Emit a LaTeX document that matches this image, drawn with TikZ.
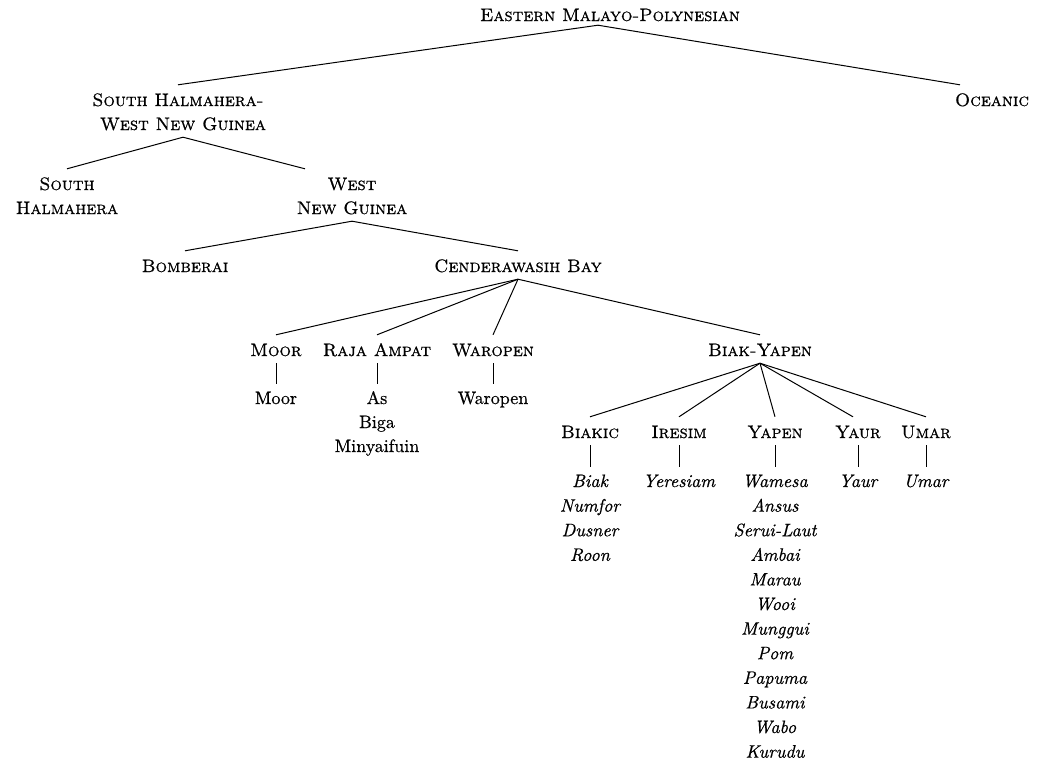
\documentclass[tikz,border=0pt]{standalone}
\usepackage{fontspec}
\setmainfont{lmroman10-regular.otf}[
  ItalicFont=lmroman10-italic.otf,
  SmallCapsFont=lmromancaps10-regular.otf,
  SmallCapsFeatures={FakeBold=0.7},
  FakeBold=0.6]
\begin{document}
\begin{tikzpicture}[x=1pt,y=-1pt,
  grp/.style={font=\fontsize{18}{22}\selectfont\scshape, inner sep=0pt, text height=21pt, text depth=7pt, anchor=base},
  lang/.style={font=\fontsize{18}{22}\selectfont, inner sep=0pt, text height=20pt, text depth=5pt, anchor=base},
  ilang/.style={lang, font=\fontsize{18}{22}\selectfont\itshape},
  br/.style={line width=1pt}]
\useasboundingbox (0,0) rectangle (1053,761);
% group labels
\node[grp] (emp) at (610,21) {Eastern Malayo-Polynesian};
\node[grp] (shw1) at (178,106) {South Halmahera-};
\node[grp] (shw2) at (183,130) {West New Guinea};
\node[grp] (oc) at (992,106) {Oceanic};
\node[grp] (sh1) at (67,190) {South};
\node[grp] (sh2) at (67,214) {Halmahera};
\node[grp] (wng1) at (352,190) {West};
\node[grp] (wng2) at (352,214) {New Guinea};
\node[grp] (bom) at (185,272) {Bomberai};
\node[grp] (cb) at (518,272) {Cenderawasih Bay};
\node[grp] (moor) at (276,356) {Moor};
\node[grp] (raja) at (377,356) {Raja Ampat};
\node[grp] (warg) at (493,356) {Waropen};
\node[grp] (by) at (760,356) {Biak-Yapen};
\node[grp] (biakic) at (590,438) {Biakic};
\node[grp] (iresim) at (679,438) {Iresim};
\node[grp] (yapen) at (775,438) {Yapen};
\node[grp] (yaur) at (858,438) {Yaur};
\node[grp] (umar) at (926,438) {Umar};
% leaves
\node[lang] (lmoor) at (276,404) {Moor};
\node[lang] (las) at (377,404) {As};
\node[lang] (lbiga) at (377,428) {Biga};
\node[lang] (lminy) at (377,452) {Minyaifuin};
\node[lang] (lwar) at (493,404) {Waropen};
\foreach \w [count=\i] in {Biak,Numfor,Dusner,Roon}
  \node[ilang] (bk\i) at (590,{487+24.6*(\i-1)}) {\w};
\node[ilang] (lyer) at (679,487) {Yeresiam};
\foreach \w [count=\i] in {Wamesa,Ansus,Serui-Laut,Ambai,Marau,Wooi,Munggui,Pom,Papuma,Busami,Wabo,Kurudu}
  \node[ilang] (yp\i) at (775,{487+24.6*(\i-1)}) {\w};
\node[ilang] (lyaur) at (858,487) {Yaur};
\node[ilang] (lumar) at (926,487) {Umar};
% branches
\draw[br] ([xshift=-12pt,yshift=3pt]emp.south) -- (shw1.north);
\draw[br] ([xshift=-12pt,yshift=3pt]emp.south) -- ([xshift=-32pt]oc.north);
\draw[br] (shw2.south) -- (sh1.north);
\draw[br] (shw2.south) -- ([xshift=-47pt]wng1.north);
\draw[br] (wng2.south) -- (bom.north);
\draw[br] (wng2.south) -- (cb.north);
\draw[br] (cb.south) -- (moor.north);
\draw[br] (cb.south) -- (raja.north);
\draw[br] (cb.south) -- (warg.north);
\draw[br] (cb.south) -- (by.north);
\draw[br] (by.south) -- (biakic.north);
\draw[br] (by.south) -- (iresim.north);
\draw[br] (by.south) -- (yapen.north);
\draw[br] (by.south) -- ([xshift=-5pt]yaur.north);
\draw[br] (by.south) -- (umar.north);
% vertical bars
\draw[br] (moor.south) -- (lmoor.north);
\draw[br] (raja.south) -- (las.north);
\draw[br] (warg.south) -- (lwar.north);
\draw[br] (biakic.south) -- (bk1.north);
\draw[br] (iresim.south) -- (lyer.north);
\draw[br] (yapen.south) -- (yp1.north);
\draw[br] (yaur.south) -- (lyaur.north);
\draw[br] (umar.south) -- (lumar.north);
\end{tikzpicture}
\end{document}
